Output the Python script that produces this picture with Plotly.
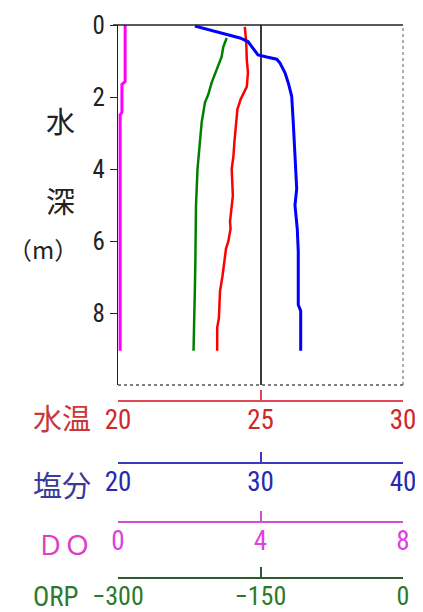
import plotly.graph_objects as go

# ---- data ----
depth_temp = [0.05, 0.14, 0.5, 0.97, 1.32, 1.71, 2.07, 2.34, 2.70, 3.2, 3.64, 4.0, 4.74, 5.1,
              5.46, 5.66, 6.01, 6.21, 6.6, 6.95, 7.39, 8.14, 8.41, 9.05]
temp = [24.45, 24.46, 24.50, 24.52, 24.56, 24.52, 24.30, 24.19, 24.14, 24.09, 24.05, 23.99, 24.03, 23.97,
        23.93, 23.95, 23.87, 23.79, 23.74, 23.67, 23.58, 23.54, 23.48, 23.48]

depth_orp = [0.36, 0.61, 0.88, 1.24, 1.60, 1.93, 2.15, 2.70, 3.2, 3.64, 4.0, 5.02, 5.66, 6.4,
             7.23, 8.50, 9.05]
orp = [-185.6, -189.2, -190.9, -196.1, -201.4, -205.0, -208.4, -211.9, -213.5, -214.4, -216.3,
       -217.9, -217.9, -218.5, -219.0, -219.5, -220.5]

depth_sal = [0.03, 0.14, 0.22, 0.28, 0.36, 0.46, 0.60, 0.74, 0.83, 0.89, 0.95, 1.06, 1.33, 1.61,
             1.98, 2.71, 3.63, 4.55, 5.01, 5.66, 6.29, 7.77, 7.94, 9.05]
sal = [25.40, 26.46, 27.37, 27.86, 28.56, 29.12, 29.38, 29.61, 29.82, 30.44, 31.14, 31.37, 31.72, 31.95,
       32.19, 32.30, 32.42, 32.54, 32.42, 32.58, 32.65, 32.65, 32.82, 32.82]

depth_do = [0.0, 1.57, 1.65, 2.43, 2.50, 9.05]
do_vals = [0.20, 0.20, 0.11, 0.11, 0.06, 0.06]

depth_ticks = [0, 2, 4, 6, 8]
temp_ticks = [20, 25, 30]
sal_ticks = [20, 30, 40]
do_ticks = [0, 4, 8]
orp_ticks = [-300, -150, 0]
orp_ticktext = ["\u2212300", "\u2212150", "0"]

RED, BLUE, MAG, GRN = "#ff0000", "#0000ff", "#ff00ff", "#008000"

# the page body keeps its default 8px margin: the figure sits at (8, 8) in the window
OFF = 8
SW, SH = 423, 612
W, H = SW - OFF, SH - OFF
PL, PR, PT = 118, 403, 25          # plot area left/right/top in screen px
MB = 3
ML, MT = PL - OFF, PT - OFF
MR = SW - PR
PBOT = OFF + H - MB                # screen y of the paper bottom
PH = PBOT - PT


def fy(Y):
    return (PBOT - Y) / PH


def fx(X):
    return (X - PL) / (PR - PL)


NUMFONT = "Liberation Sans Narrow, Arial Narrow, Roboto Condensed, Liberation Sans, sans-serif"
JPFONT = "Noto Sans CJK JP"

fig = go.Figure()
fig.add_trace(go.Scatter(x=do_vals, y=depth_do, xaxis="x4", yaxis="y", mode="lines",
                         line=dict(color=MAG, width=3)))
fig.add_trace(go.Scatter(x=orp, y=depth_orp, xaxis="x5", yaxis="y", mode="lines",
                         line=dict(color=GRN, width=2.5)))
fig.add_trace(go.Scatter(x=temp, y=depth_temp, xaxis="x2", yaxis="y", mode="lines",
                         line=dict(color=RED, width=2.5)))
fig.add_trace(go.Scatter(x=sal, y=depth_sal, xaxis="x3", yaxis="y", mode="lines",
                         line=dict(color=BLUE, width=3)))

ybot = fy(385)


def bottom_axis(rng, ticks, color, linecolor, Y, ticktext=None, size=27):
    d = dict(range=rng, tickvals=ticks, overlaying="x", anchor="free", position=fy(Y),
             side="bottom", showline=True, linecolor=linecolor, linewidth=1.5,
             ticks="inside", ticklen=10, tickwidth=1.5, tickcolor=linecolor,
             showgrid=False, zeroline=False, automargin=False, ticklabeloverflow="allow",
             ticklabelstandoff=-5,
             tickfont=dict(family=NUMFONT, size=size, color=color))
    if ticktext is not None:
        d["ticktext"] = ticktext
    return d


x2 = bottom_axis([20, 30], temp_ticks, "#d02828", "#e04858", 401)
x2["minor"] = dict(tickvals=[25], showgrid=True, gridcolor="#3a3a3a", gridwidth=1.5, ticks="")

fig.update_layout(
    width=W, height=H,
    margin=dict(l=ML, r=MR, t=MT, b=MB, autoexpand=False),
    paper_bgcolor="white", plot_bgcolor="rgba(0,0,0,0)",
    showlegend=False,
    xaxis=dict(range=[20, 30], domain=[0, 1], anchor="y", visible=False, automargin=False),
    xaxis2=x2,
    xaxis3=bottom_axis([20, 40], sal_ticks, "#2828b0", "#3a3ac0", 463),
    xaxis4=bottom_axis([0, 8], do_ticks, "#e040e0", "#d050d0", 522),
    xaxis5=bottom_axis([-300, 0], orp_ticks, "#2a7a2a", "#305a30", 578, orp_ticktext, 26),
    yaxis=dict(range=[10, 0], domain=[ybot, 1], tickvals=depth_ticks, ticks="outside",
               ticklen=7, tickwidth=1.2, tickcolor="#222", showline=True, linecolor="#222",
               linewidth=1.3, showgrid=False, zeroline=False, automargin=False,
               tickfont=dict(family=NUMFONT, size=25, color="#222")),
    shapes=[
        dict(type="line", xref="paper", yref="paper", x0=fx(113), x1=1, y0=1, y1=1,
             line=dict(color="#222", width=1.5)),
        dict(type="line", xref="paper", yref="paper", x0=1, x1=1, y0=ybot, y1=1,
             line=dict(color="#777", width=1.2, dash="dot")),
        dict(type="line", xref="paper", yref="paper", x0=0, x1=1, y0=ybot, y1=ybot,
             line=dict(color="#555", width=1.5, dash="dot")),
    ],
)

ann = [
    ("水", 60, 120, "#222", JPFONT, 29),
    ("深", 60, 200, "#222", JPFONT, 29),
    ("（m）", 43, 248, "#222", JPFONT, 24),
    ("水温", 62, 417, "#c83838", JPFONT, 29),
    ("塩分", 62, 484, "#3a3a9a", JPFONT, 29),
    ("ＤＯ", 64, 543, "#e040c0", JPFONT, 27),
    ("ORP", 56, 597, "#2e7a2e", NUMFONT, 27),
]
for t, X, Y, c, f, s in ann:
    fig.add_annotation(text=t, xref="paper", yref="paper", x=fx(X), y=fy(Y),
                       showarrow=False, xanchor="center", yanchor="middle",
                       font=dict(family=f, size=s, color=c))

fig.write_html("out.html", config={"displayModeBar": False})
